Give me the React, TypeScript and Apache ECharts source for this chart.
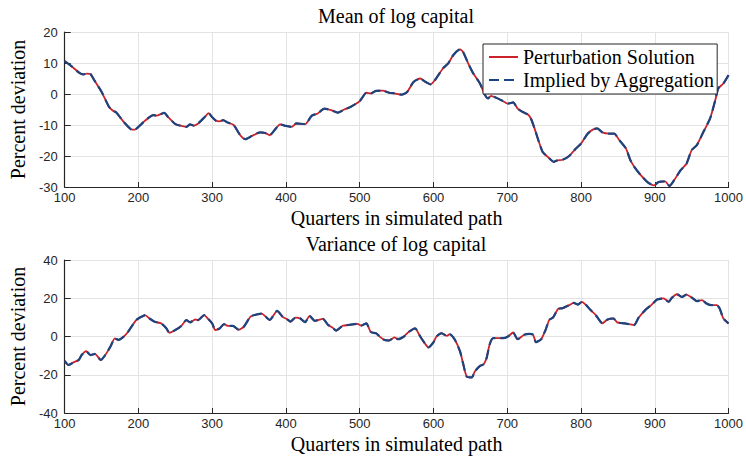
import React, { useEffect, useRef } from "react";
import * as echarts from "echarts";

// Quarters (x) and percent deviation (y)
const meanX = [100,110,120,125,130,135,140,150,160,165,170,180,190,195,200,210,220,225,230,235,240,250,260,265,270,275,280,290,295,300,305,310,315,320,329,338,345,354,365,372,378,385,392,400,408,414,426,435,443,452,461,470,479,488,500,509,515,522,531,540,547,557,564,573,582,589,596,602,613,620,627,636,640,647,654,663,670,674,678,685,692,701,708,714,721,728,732,737,743,748,755,763,768,775,784,793,800,809,816,822,829,838,845,852,861,867,874,881,890,899,905,914,920,926,935,943,950,957,966,975,982,986,993,1000];
const meanY = [10.6,8.8,6.8,6.3,6.6,6.4,4.5,0.7,-4.1,-5.3,-6,-9,-11.4,-11.5,-10.6,-8.4,-6.8,-7,-6.5,-6.1,-7.4,-9.7,-10.4,-10.6,-9.8,-10.2,-9.7,-7.4,-6.2,-7.5,-8.6,-8.8,-8.4,-9.1,-10,-13.3,-14.6,-13.5,-12.4,-12.6,-13.3,-11.5,-9.8,-10.3,-10.6,-9.5,-9.7,-7,-6.3,-4.7,-5.2,-6,-5,-4.1,-2.3,0.4,0.2,1,1.1,0.4,0.2,-0.2,0.6,3.9,5,3.9,3.1,4.5,8.3,9.9,12.6,14.4,13.6,9.9,6.6,3.4,-0.4,-1.4,-0.6,-1.2,-2,-3.1,-2.7,-4.7,-5.8,-6.6,-7.9,-11.1,-15.5,-18.7,-20.3,-21.9,-21.4,-21.2,-20,-17.6,-16,-12.8,-11.5,-11.1,-12.4,-12.8,-12.8,-14.9,-17.6,-21.4,-24.1,-26.2,-28.4,-29.5,-28.4,-28.2,-29.7,-27.9,-24.6,-22.5,-18.1,-16.5,-12.2,-7.9,-2,1.8,3.4,6.1];

const varX = [100,105,112,119,123,129,135,141,149,155,162,168,173,180,186,192,197,204,209,215,222,231,238,242,250,258,265,270,277,281,289,294,300,304,310,316,321,328,336,343,352,361,367,378,388,396,401,406,413,419,426,432,439,450,457,463,468,477,486,497,502,509,515,522,527,533,540,547,552,560,566,575,582,589,593,600,604,611,618,622,629,636,640,645,652,656,663,668,672,676,681,694,701,708,714,723,730,735,739,746,752,757,762,769,775,784,790,796,801,807,813,820,829,836,844,849,858,865,872,878,887,896,903,912,919,923,930,937,943,950,957,964,970,977,984,988,993,1000];
const varY = [-12.8,-14.9,-13.5,-12.3,-9.7,-7.6,-9.7,-9.1,-12.3,-9.7,-5.3,-1,-1.8,-0.1,2.5,6,8.6,10.3,11.2,9.4,7.7,6.8,4.2,1.9,3.4,5.5,8.6,7.4,8.9,8.6,11.2,9.4,6.8,3.4,4.2,6.5,5.6,5.6,3.5,5.2,10.4,11.6,12,8.7,13.4,10.1,9.2,7.8,9.9,9.5,7.5,10.8,8.2,9.2,6.1,4.7,3.1,5.6,6.1,6.6,5.7,6.9,2.3,1.7,0,-1.7,-2.1,-0.5,-1.4,0,2.3,4.3,0,-4,-5.7,-3,0,1.7,0.3,1.2,-1.7,-7.8,-13.9,-20.9,-21.4,-18.3,-15.4,-14.5,-11.3,-4.3,-0.9,-0.9,0,2.1,-1.4,0.9,1.4,0.9,-3,-1.4,3.5,8.7,9.9,14.4,14.8,16.4,17.6,16.7,18.1,16.4,13.8,11.2,6.9,8.9,9.4,7.4,6.9,6.5,6,9.8,13.8,16.7,19.3,19.9,18.1,20.2,22.1,20.7,21.9,20.4,18.5,19,17.3,16.4,16.4,14.6,9.4,6.8];

const seriesNames = ["Perturbation Solution", "Implied by Aggregation"];
const titles = ["Mean of log capital", "Variance of log capital"];
const xName = "Quarters in simulated path";
const yName = "Percent deviation";

const SERIF = "'Liberation Serif', 'Times New Roman', serif";
const SANS = "'Liberation Sans', Arial, sans-serif";
const RED = "#cc2229";
const BLUE = "#1a4580";
const AX = "#262626";
const GRID = "#e3e3e3";

function pairs(xs: number[], ys: number[]) {
  return xs.map((x, i) => [x, ys[i]]);
}

function xAxisCfg(gridIndex: number) {
  return {
    type: "value",
    gridIndex,
    min: 100,
    max: 1000,
    interval: 100,
    name: xName,
    nameLocation: "middle",
    nameGap: 21,
    nameTextStyle: { fontFamily: SERIF, fontSize: 20, color: "#000" },
    axisLine: { show: true, onZero: false, lineStyle: { color: AX, width: 1.2 } },
    axisTick: { show: true, inside: true, length: 5, lineStyle: { color: AX } },
    axisLabel: {
      margin: 4,
      fontFamily: SANS,
      fontSize: 13,
      color: AX,
      formatter: (v: number) => String(v),
    },
    splitLine: { show: true, lineStyle: { color: GRID, width: 1 } },
  };
}

function yAxisCfg(gridIndex: number, min: number, max: number, interval: number) {
  return {
    type: "value",
    gridIndex,
    min,
    max,
    interval,
    name: yName,
    nameLocation: "middle",
    nameGap: 31,
    nameRotate: 90,
    nameTextStyle: { fontFamily: SERIF, fontSize: 20, color: "#000" },
    axisLine: { show: true, onZero: false, lineStyle: { color: AX, width: 1.2 } },
    axisTick: { show: true, inside: true, length: 6, lineStyle: { color: AX } },
    axisLabel: { margin: 7, fontFamily: SANS, fontSize: 13, color: AX },
    splitLine: { show: true, lineStyle: { color: GRID, width: 1 } },
  };
}

function lineSeries(name: string, idx: number, xs: number[], ys: number[], dashed: boolean) {
  return {
    type: "line",
    name,
    xAxisIndex: idx,
    yAxisIndex: idx,
    data: pairs(xs, ys),
    symbol: "none",
    smooth: 0.2,
    lineStyle: dashed
      ? { color: BLUE, width: 2.2, type: [10, 5] }
      : { color: RED, width: 1.8, type: "solid" },
    itemStyle: { color: dashed ? BLUE : RED },
    z: dashed ? 3 : 2,
  };
}

export default function App() {
  const ref = useRef<HTMLDivElement>(null);
  useEffect(() => {
    if (!ref.current) return;
    const chart = echarts.init(ref.current, null, { renderer: "svg" });
    chart.setOption({
      animation: false,
      backgroundColor: "#fff",
      grid: [
        { left: 61, right: 15, top: 32, height: 155 },
        { left: 61, right: 15, top: 260, height: 153 },
      ],
      xAxis: [xAxisCfg(0), xAxisCfg(1)],
      yAxis: [yAxisCfg(0, -30, 20, 10), yAxisCfg(1, -40, 40, 20)],
      legend: {
        data: seriesNames,
        orient: "vertical",
        left: 483,
        top: 44,
        padding: [3, 2, 4, 5],
        itemGap: 3,
        itemWidth: 29,
        itemHeight: 14,
        itemStyle: { opacity: 0, borderWidth: 0 },
        backgroundColor: "#fff",
        borderColor: AX,
        borderWidth: 1,
        borderRadius: 0,
        textStyle: { fontFamily: SERIF, fontSize: 20, color: "#000" },
      },
      graphic: [
        {
          type: "text",
          x: 396,
          y: 16,
          style: {
            text: titles[0],
            textAlign: "center",
            textVerticalAlign: "middle",
            font: `20px ${SERIF}`,
            fill: "#000",
          },
        },
        {
          type: "text",
          x: 396,
          y: 244,
          style: {
            text: titles[1],
            textAlign: "center",
            textVerticalAlign: "middle",
            font: `20px ${SERIF}`,
            fill: "#000",
          },
        },
      ],
      series: [
        lineSeries(seriesNames[0], 0, meanX, meanY, false),
        lineSeries(seriesNames[1], 0, meanX, meanY, true),
        lineSeries(seriesNames[0], 1, varX, varY, false),
        lineSeries(seriesNames[1], 1, varX, varY, true),
      ],
    });
    return () => chart.dispose();
  }, []);
  return (
    <div
      ref={ref}
      style={{ position: "absolute", left: 0, top: 0, width: 746, height: 460 }}
    />
  );
}
